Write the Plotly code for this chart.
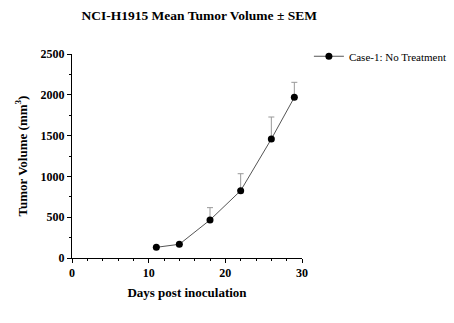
import plotly.graph_objects as go

days = [11, 14, 18, 22, 26, 29]
mean_volume = [131, 168, 466, 825, 1458, 1969]
sem = [12, 15, 151, 208, 270, 184]
series_name = "Case-1: No Treatment"
y_ticks = [0, 500, 1000, 1500, 2000, 2500]
x_ticks = [0, 10, 20, 30]

FONT = "Liberation Serif"

fig = go.Figure()
fig.add_trace(go.Scatter(
    x=days, y=mean_volume, name=series_name, mode="lines+markers",
    line=dict(color="#555555", width=1),
    marker=dict(color="black", size=7, symbol="circle"),
    error_y=dict(type="data", array=sem, arrayminus=[0]*len(sem), symmetric=False,
                 color="#999999", thickness=1, width=3),
))

fig.update_layout(
    width=454, height=323,
    margin=dict(l=72, r=152, t=54, b=65, autoexpand=False),
    paper_bgcolor="white", plot_bgcolor="white",
    font=dict(family=FONT, color="black"),
    title=dict(text="<b>NCI-H1915 Mean Tumor Volume ± SEM</b>", xref="paper", x=0.553, xanchor="center",
               y=0.953, yanchor="middle", font=dict(size=13.5, family=FONT)),
    showlegend=True,
    legend=dict(x=1.03, y=1.06, xanchor="left", yanchor="top", itemwidth=30,
                font=dict(size=11, family=FONT), bgcolor="rgba(0,0,0,0)"),
    xaxis=dict(range=[0, 30], tickvals=x_ticks, ticktext=[f"<b>{v}</b>" for v in x_ticks],
               showgrid=False, zeroline=False,
               showline=True, linecolor="black", linewidth=1,
               ticks="outside", ticklen=4, tickcolor="black",
               minor=dict(dtick=2, ticks="outside", ticklen=2, tickcolor="black"),
               tickfont=dict(size=12, family=FONT),
               title=dict(text="<b>Days post inoculation</b>", font=dict(size=13, family=FONT), standoff=8)),
    yaxis=dict(range=[0, 2500], tickvals=y_ticks, ticktext=[f"<b>{v}</b>" for v in y_ticks],
               showgrid=False, zeroline=False,
               showline=True, linecolor="black", linewidth=1,
               ticks="outside", ticklen=4, tickcolor="black",
               minor=dict(dtick=250, ticks="outside", ticklen=2, tickcolor="black"),
               tickfont=dict(size=12, family=FONT),
               title=dict(text="<b>Tumor Volume (mm<sup>3</sup>)</b>", font=dict(size=13, family=FONT), standoff=10)),
)

fig.write_html("out.html")
